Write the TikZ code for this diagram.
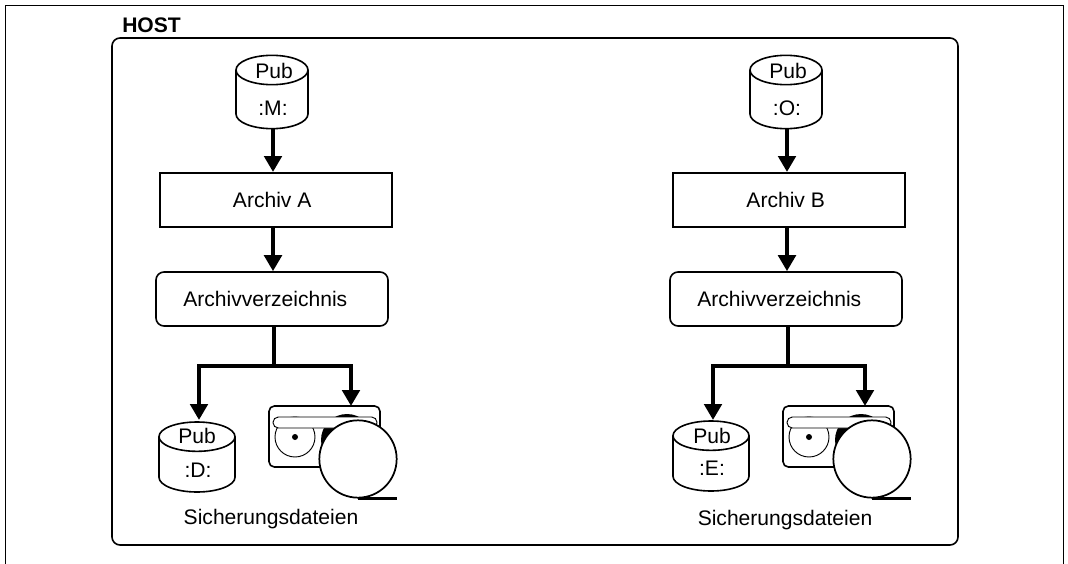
\documentclass[tikz,border=0pt]{standalone}
\usepackage{fontspec}
\setmainfont{Liberation Sans}
\usetikzlibrary{arrows.meta}
\tikzset{
  boxtext/.style = {align=center, inner sep=0pt, text=black,
    font=\fontsize{15.8pt}{18pt}\selectfont},
  archivbox/.style = {boxtext, rectangle, draw, line width=1.5pt,
    minimum width=174pt, minimum height=40.5pt},
  verzbox/.style = {boxtext, rectangle, draw, line width=1.2pt,
    minimum width=174pt, minimum height=40.5pt, rounded corners=6pt},
  pubdisk/.style = {rectangle, outer sep=0pt, inner sep=0pt,
    minimum width=54pt, minimum height=55pt},
  lowdisk/.style = {pubdisk, minimum width=57pt, minimum height=52.5pt},
  diskline/.style = {line width=1.2pt},
  bigarrow/.style = {-{Triangle[length=12pt,width=13pt]}, line width=3.2pt},
  bigline/.style = {line width=3.2pt},
  tapebody/.style = {draw, line width=1.2pt, rounded corners=4pt},
  tapebar/.style = {draw, fill=white, line width=0.7pt, rounded corners=4pt},
  tapereel/.style = {draw, line width=0.7pt},
  bigreel/.style = {circle, draw, fill=white, line width=1.3pt,
    minimum size=58pt, inner sep=0pt},
}
% outline of a disk round its node: name, half width in pt
\newcommand{\diskoutline}[2]{
  \draw[diskline] ([yshift=-11pt]#1.north) ellipse [x radius=#2pt, y radius=11pt];
  \draw[diskline] ([yshift=-11pt]#1.north west) -- ([yshift=11pt]#1.south west)
    arc [start angle=180, end angle=360, x radius=#2pt, y radius=11pt]
    -- ([yshift=-11pt]#1.north east);
}

\begin{document}
\begin{tikzpicture}[x=0.75pt,y=-0.75pt]
\useasboundingbox (0,0) rectangle (1068,564);
\draw[line width=1pt] (5.5,564) -- (5.5,5.5) -- (1063.5,5.5) -- (1063.5,564);
\draw[line width=1.2pt, rounded corners=6pt] (112,38) rectangle (958,545);
\node[boxtext, anchor=west, font=\fontsize{15.8pt}{18pt}\selectfont\bfseries] (host) at (122,25) {HOST};

% left side
\node[pubdisk] (diskM) at (272,92) {};
\diskoutline{diskM}{27}
\node[boxtext] (pubM) at (274,71) {Pub};
\node[boxtext] (nameM) at (273,108) {:M:};
\node[archivbox] (archivA) at (275.5,200) {Archiv A\hspace{5pt}};
\node[verzbox] (verzA) at (272,299) {Archivverzeichnis\hspace{10pt}};
\coordinate (midA) at (273,250);
\coordinate (busA) at (274,366);
\node[lowdisk] (diskD) at (197,457) {};
\diskoutline{diskD}{28.5}
\node[boxtext] (pubD) at (197,436) {Pub};
\node[boxtext] (nameD) at (198,470) {:D:};
\coordinate (dropD) at (199,420);
\draw[tapebody] (269,406) rectangle (380,467);
\draw[tapereel] (295,437) circle (20);
\fill (295,437) circle (3);
\fill (347,440) circle (26);
\draw[tapebar] (273,417) rectangle (377,428);
\node[bigreel] (reelA) at (358,459) {};
\draw[line width=1.6pt] (reelA.south) -- ++(39,0);
\coordinate (tapeA) at (351,406);
\node[boxtext] (saveA) at (271,519) {Sicherungsdateien};

\draw[bigarrow] (midA |- diskM.south) -- (midA |- archivA.north);
\draw[bigarrow] (midA |- archivA.south) -- (midA |- verzA.north);
\draw[bigline] (busA) -- (busA |- verzA.south);
\draw[bigarrow] (busA) -| (dropD);
\draw[bigarrow] (busA) -| (tapeA);

% right side
\node[pubdisk] (diskO) at (786,92) {};
\diskoutline{diskO}{27}
\node[boxtext] (pubO) at (788,71) {Pub};
\node[boxtext] (nameO) at (787,108) {:O:};
\node[archivbox] (archivB) at (789,200) {Archiv B\hspace{5pt}};
\node[verzbox] (verzB) at (786,299) {Archivverzeichnis\hspace{10pt}};
\coordinate (midB) at (787,250);
\coordinate (busB) at (788,366);
\node[lowdisk] (diskE) at (711,456) {};
\diskoutline{diskE}{28.5}
\node[boxtext] (pubE) at (712,436) {Pub};
\node[boxtext] (nameE) at (712,468) {:E:};
\coordinate (dropE) at (713,420);
\draw[tapebody] (783,406) rectangle (894,467);
\draw[tapereel] (809,437) circle (20);
\fill (809,437) circle (3);
\fill (861,440) circle (26);
\draw[tapebar] (787,417) rectangle (891,428);
\node[bigreel] (reelB) at (872,459) {};
\draw[line width=1.6pt] (reelB.south) -- ++(39,0);
\coordinate (tapeB) at (865,406);
\node[boxtext] (saveB) at (785,520) {Sicherungsdateien};

\draw[bigarrow] (midB |- diskO.south) -- (midB |- archivB.north);
\draw[bigarrow] (midB |- archivB.south) -- (midB |- verzB.north);
\draw[bigline] (busB) -- (busB |- verzB.south);
\draw[bigarrow] (busB) -| (dropE);
\draw[bigarrow] (busB) -| (tapeB);
\end{tikzpicture}
\end{document}
